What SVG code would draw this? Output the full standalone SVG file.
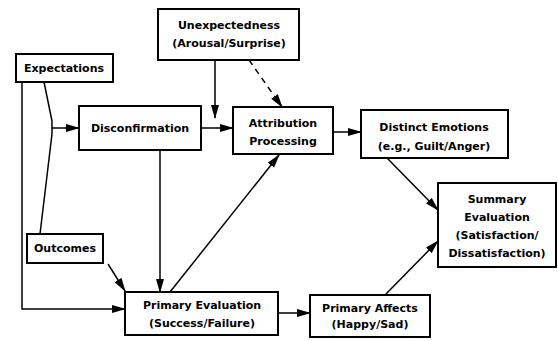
<svg xmlns="http://www.w3.org/2000/svg" width="558" height="341" viewBox="0 0 558 341">
<defs>
<marker id="ah" markerWidth="14" markerHeight="9" refX="13" refY="4.5" orient="auto" markerUnits="userSpaceOnUse">
<path d="M0,0.5 L14,4.5 L0,8.5 Z" fill="#000"/>
</marker>
</defs>
<style>
.box{fill:#fff;stroke:#000;stroke-width:2}
.t{font-family:"DejaVu Sans",sans-serif;font-weight:bold;font-size:11px;text-anchor:middle;fill:#000}
.c{fill:none;stroke:#000;stroke-width:1.5}
.a{marker-end:url(#ah)}
.d{stroke-dasharray:6,5}
</style>
<rect width="558" height="341" fill="#fff"/>
<g id="connectors">
<polyline class="c a" points="22,82 22,309 125,309"/>
<polyline class="c" points="44,82 52,121 52,128"/>
<polyline class="c" points="40,234 52,134 52,128"/>
<line class="c a" x1="52" y1="128" x2="79" y2="128"/>
<line class="c a" x1="201" y1="128" x2="233" y2="128"/>
<line class="c a" x1="215" y1="60" x2="215" y2="118"/>
<line class="c a d" x1="249" y1="60" x2="282" y2="107"/>
<line class="c a" x1="160" y1="150" x2="160" y2="292"/>
<line class="c a" x1="170" y1="292" x2="279" y2="155"/>
<line class="c a" x1="108" y1="264" x2="125" y2="291"/>
<line class="c a" x1="278" y1="313" x2="310" y2="313"/>
<line class="c a" x1="333" y1="132" x2="361" y2="132"/>
<line class="c a" x1="387" y1="158" x2="438" y2="210"/>
<line class="c a" x1="385" y1="295" x2="438" y2="241"/>
</g>
<g id="unexpectedness">
<rect class="box" x="158" y="9" width="141" height="51"/>
<text class="t" x="229" y="29">Unexpectedness</text>
<text class="t" x="229" y="47">(Arousal/Surprise)</text>
</g>
<g id="expectations">
<rect class="box" x="16" y="54" width="97" height="28"/>
<text class="t" x="64" y="72">Expectations</text>
</g>
<g id="disconfirmation">
<rect class="box" x="79" y="106" width="122" height="44"/>
<text class="t" x="140" y="132">Disconfirmation</text>
</g>
<g id="attribution">
<rect class="box" x="233" y="107" width="100" height="47"/>
<text class="t" x="283" y="127">Attribution</text>
<text class="t" x="283" y="145">Processing</text>
</g>
<g id="distinct">
<rect class="box" x="361" y="110" width="147" height="48"/>
<text class="t" x="434" y="131">Distinct Emotions</text>
<text class="t" x="434" y="150">(e.g., Guilt/Anger)</text>
</g>
<g id="summary">
<rect class="box" x="438" y="183" width="118" height="84"/>
<text class="t" x="497" y="203">Summary</text>
<text class="t" x="497" y="221">Evaluation</text>
<text class="t" x="497" y="239">(Satisfaction/</text>
<text class="t" x="497" y="257">Dissatisfaction)</text>
</g>
<g id="outcomes">
<rect class="box" x="27" y="234" width="76" height="29"/>
<text class="t" x="65" y="252">Outcomes</text>
</g>
<g id="primaryEvaluation">
<rect class="box" x="125" y="292" width="153" height="43"/>
<text class="t" x="202" y="309">Primary Evaluation</text>
<text class="t" x="202" y="327">(Success/Failure)</text>
</g>
<g id="primaryAffects">
<rect class="box" x="310" y="295" width="120" height="42"/>
<text class="t" x="370" y="312">Primary Affects</text>
<text class="t" x="370" y="328">(Happy/Sad)</text>
</g>
</svg>
